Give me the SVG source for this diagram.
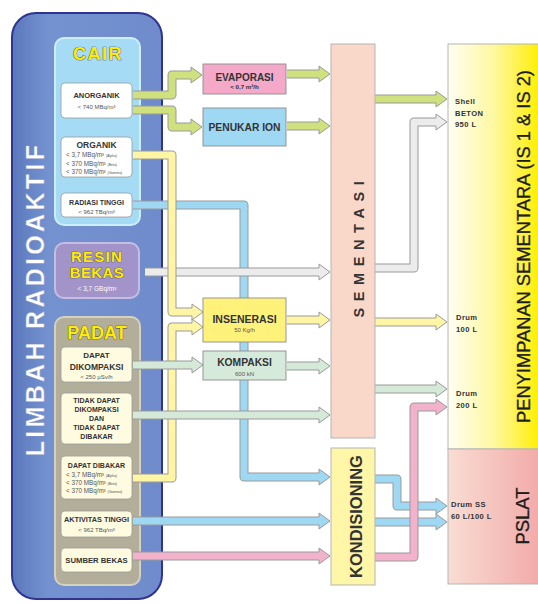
<svg xmlns="http://www.w3.org/2000/svg" width="538" height="604" viewBox="0 0 538 604">
<style>
text{font-family:"Liberation Sans",Arial,sans-serif;}
.b{font-weight:bold;fill:#333;text-anchor:middle;}
.s{fill:#555;text-anchor:middle;font-size:6px;}
.l{fill:#555;font-size:6.3px;}
.l tspan{font-size:3.5px;}
.hd{font-weight:bold;fill:#ffec00;stroke:#3a3a3a;stroke-width:.7;paint-order:stroke;text-anchor:middle;}
.bx{fill:#fff;stroke:#9a9a9a;stroke-width:.8;}
.pd{fill:#fffbe0;stroke:#9a9a9a;stroke-width:.8;}
.pr{stroke:#8c8c8c;stroke-width:.9;}
.tb{stroke:#b5b5b5;stroke-width:1;}
.lab{font-weight:bold;fill:#333;font-size:7.6px;letter-spacing:.4px;}
#conn path{fill:none;stroke-linejoin:round;}
#conn path.o{stroke:#9a9a9a;stroke-width:9;}
#conn path.f{stroke-width:7;}
.g .f{stroke:#cfe07f;marker-end:url(#mg);}
.y .f{stroke:#fff5a5;marker-end:url(#my);}
.c .f{stroke:#9fd8f3;marker-end:url(#mc);}
.e .f{stroke:#ececec;marker-end:url(#me);}
.m .f{stroke:#d5e9d9;marker-end:url(#mm);}
.p .f{stroke:#f2b2cc;marker-end:url(#mp);}
</style>
<defs>
<marker id="mg" markerUnits="userSpaceOnUse" orient="auto" refX="0" refY="0" markerWidth="14" markerHeight="20" viewBox="-1 -10 14 20" overflow="visible"><path d="M0,-4V-8L11,0L0,8V4" fill="#cfe07f" stroke="#9a9a9a" stroke-width="1"/></marker>
<marker id="my" markerUnits="userSpaceOnUse" orient="auto" refX="0" refY="0" markerWidth="14" markerHeight="20" viewBox="-1 -10 14 20" overflow="visible"><path d="M0,-4V-8L11,0L0,8V4" fill="#fff5a5" stroke="#9a9a9a" stroke-width="1"/></marker>
<marker id="mc" markerUnits="userSpaceOnUse" orient="auto" refX="0" refY="0" markerWidth="14" markerHeight="20" viewBox="-1 -10 14 20" overflow="visible"><path d="M0,-4V-8L11,0L0,8V4" fill="#9fd8f3" stroke="#9a9a9a" stroke-width="1"/></marker>
<marker id="me" markerUnits="userSpaceOnUse" orient="auto" refX="0" refY="0" markerWidth="14" markerHeight="20" viewBox="-1 -10 14 20" overflow="visible"><path d="M0,-4V-8L11,0L0,8V4" fill="#ececec" stroke="#9a9a9a" stroke-width="1"/></marker>
<marker id="mm" markerUnits="userSpaceOnUse" orient="auto" refX="0" refY="0" markerWidth="14" markerHeight="20" viewBox="-1 -10 14 20" overflow="visible"><path d="M0,-4V-8L11,0L0,8V4" fill="#d5e9d9" stroke="#9a9a9a" stroke-width="1"/></marker>
<marker id="mp" markerUnits="userSpaceOnUse" orient="auto" refX="0" refY="0" markerWidth="14" markerHeight="20" viewBox="-1 -10 14 20" overflow="visible"><path d="M0,-4V-8L11,0L0,8V4" fill="#f2b2cc" stroke="#9a9a9a" stroke-width="1"/></marker>
<linearGradient id="gOut" x1="0" y1="0" x2="1" y2="0"><stop offset="0" stop-color="#5b78bd"/><stop offset="0.25" stop-color="#7592d0"/><stop offset="1" stop-color="#6f8bcb"/></linearGradient>
<linearGradient id="gIS" x1="0" y1="0" x2="1" y2="0"><stop offset="0" stop-color="#fffef2"/><stop offset="0.5" stop-color="#fff8a0"/><stop offset="1" stop-color="#ffee00"/></linearGradient>
<linearGradient id="gPS" x1="0" y1="0" x2="1" y2="0"><stop offset="0" stop-color="#f9ddd3"/><stop offset="1" stop-color="#f2aaa9"/></linearGradient>
</defs>

<g id="limbah">
<rect x="12" y="13" width="150" height="586" rx="24" fill="url(#gOut)" stroke="#2e3490" stroke-width="2"/>
<text transform="translate(44,299) rotate(-90)" font-size="25" font-weight="bold" fill="#fff" stroke="#8d98b8" stroke-width=".4" text-anchor="middle" letter-spacing="3.3">LIMBAH RADIOAKTIF</text>
</g>

<g id="cair">
<rect x="55" y="38" width="85" height="187" rx="9" fill="#a6dbf5" stroke="#cdeefb" stroke-width="2"/>
<text class="hd" x="98" y="60" font-size="18" letter-spacing="1.5">CAIR</text>
</g>
<g id="anorganik">
<rect class="bx" x="61" y="83" width="71" height="35" rx="4"/>
<text class="b" x="96.5" y="98" font-size="7.5">ANORGANIK</text>
<text class="s" x="96.5" y="109">&lt; 740 MBq/m³</text>
</g>
<g id="organik">
<rect class="bx" x="61" y="137" width="71" height="40" rx="4"/>
<text class="b" x="96.5" y="148" font-size="8.5">ORGANIK</text>
<text class="l" x="66" y="157">&lt; 3,7 MBq/m³ <tspan>(Alpha)</tspan></text>
<text class="l" x="66" y="165.5">&lt; 370 MBq/m³ <tspan>(Beta)</tspan></text>
<text class="l" x="66" y="174">&lt; 370 MBq/m³ <tspan>(Gamma)</tspan></text>
</g>
<g id="radiasi">
<rect class="bx" x="61" y="193" width="71" height="24" rx="4"/>
<text class="b" x="96.5" y="205" font-size="7">RADIASI TINGGI</text>
<text class="s" x="96.5" y="213.5">&lt; 962 TBq/m³</text>
</g>

<g id="resin">
<rect x="55" y="243" width="84" height="55" rx="9" fill="#a294c9" stroke="#c6bde2" stroke-width="2"/>
<text class="hd" x="97" y="262" font-size="15" letter-spacing="1.2">RESIN</text>
<text class="hd" x="97" y="278" font-size="15" letter-spacing="0.4">BEKAS</text>
<text x="97" y="290.5" font-size="6.5" fill="#fff" text-anchor="middle">&lt; 3,7 GBq/m³</text>
</g>

<g id="padat">
<rect x="55" y="317" width="85" height="268" rx="9" fill="#b3ae9a" stroke="#d4d1c1" stroke-width="2"/>
<text class="hd" x="97" y="339" font-size="18">PADAT</text>
</g>
<g id="dikompaksi">
<rect class="pd" x="61" y="347" width="71" height="35" rx="4"/>
<text class="b" x="96.5" y="358" font-size="8">DAPAT</text>
<text class="b" x="96.5" y="370" font-size="8.5">DIKOMPAKSI</text>
<text class="s" x="96.5" y="378.5">&lt; 250 µSv/h</text>
</g>
<g id="tidakdapat">
<rect class="pd" x="61" y="393" width="71" height="51" rx="4"/>
<text class="b" x="96.5" y="403" font-size="7">TIDAK DAPAT</text>
<text class="b" x="96.5" y="412" font-size="7">DIKOMPAKSI</text>
<text class="b" x="96.5" y="421" font-size="7">DAN</text>
<text class="b" x="96.5" y="430" font-size="7">TIDAK DAPAT</text>
<text class="b" x="96.5" y="439" font-size="7">DIBAKAR</text>
</g>
<g id="dibakar">
<rect class="pd" x="61" y="456" width="71" height="43" rx="4"/>
<text class="b" x="96.5" y="468" font-size="7">DAPAT DIBAKAR</text>
<text class="l" x="66" y="477">&lt; 3,7 MBq/m³ <tspan>(Alpha)</tspan></text>
<text class="l" x="66" y="485">&lt; 370 MBq/m³ <tspan>(Beta)</tspan></text>
<text class="l" x="66" y="493">&lt; 370 MBq/m³ <tspan>(Gamma)</tspan></text>
</g>
<g id="aktivitas">
<rect class="pd" x="61" y="511" width="71" height="26" rx="4"/>
<text class="b" x="96.5" y="522" font-size="7.3">AKTIVITAS TINGGI</text>
<text class="s" x="96.5" y="532">&lt; 962 TBq/m³</text>
</g>
<g id="sumber">
<rect class="pd" x="61" y="548" width="71" height="24" rx="4"/>
<text class="b" x="96.5" y="563" font-size="7.7">SUMBER BEKAS</text>
</g>

<g id="conn">
<g class="c"><path class="o" d="M133,205H244V477H319"/><path class="f" d="M133,205H244V477H319"/></g>
<g class="e"><path class="o" d="M145,272H319"/><path class="f" d="M145,272H319"/></g>
<g class="y"><path class="o" d="M133,155H172V312H192"/><path class="f" d="M133,155H172V312H192"/></g>
<g class="y"><path class="o" d="M133,478H172V327H192"/><path class="f" d="M133,478H172V327H192"/></g>
<g class="m"><path class="o" d="M133,365H192"/><path class="f" d="M133,365H192"/></g>
<g class="m"><path class="o" d="M133,415H319"/><path class="f" d="M133,415H319"/></g>
<g class="g"><path class="o" d="M133,95H172V75H191"/><path class="f" d="M133,95H172V75H191"/></g>
<g class="g"><path class="o" d="M133,110H172V127H191"/><path class="f" d="M133,110H172V127H191"/></g>
<g class="g"><path class="o" d="M287,74H319"/><path class="f" d="M287,74H319"/></g>
<g class="g"><path class="o" d="M287,126H319"/><path class="f" d="M287,126H319"/></g>
<g class="g"><path class="o" d="M375,99H436"/><path class="f" d="M375,99H436"/></g>
<g class="e"><path class="o" d="M375,268H414V122H436"/><path class="f" d="M375,268H414V122H436"/></g>
<g class="y"><path class="o" d="M287,320H319"/><path class="f" d="M287,320H319"/></g>
<g class="y"><path class="o" d="M375,322H436"/><path class="f" d="M375,322H436"/></g>
<g class="m"><path class="o" d="M287,366H319"/><path class="f" d="M287,366H319"/></g>
<g class="m"><path class="o" d="M375,389H436"/><path class="f" d="M375,389H436"/></g>
<g class="c"><path class="o" d="M133,521H319"/><path class="f" d="M133,521H319"/></g>
<g class="p"><path class="o" d="M133,556H319"/><path class="f" d="M133,556H319"/></g>
<g class="c"><path class="o" d="M375,479H397V506H436"/><path class="f" d="M375,479H397V506H436"/></g>
<g class="c"><path class="o" d="M375,522H436"/><path class="f" d="M375,522H436"/></g>
<g class="p"><path class="o" d="M375,557H414V407H436"/><path class="f" d="M375,557H414V407H436"/></g>
</g>

<g id="evaporasi">
<rect class="pr" x="203" y="64" width="83" height="30" fill="#f4a9c9"/>
<text class="b" x="244.5" y="81" font-size="10">EVAPORASI</text>
<text class="b" x="244.5" y="88.5" font-size="6.2">&lt; 0,7 m³/h</text>
</g>
<g id="penukar">
<rect class="pr" x="203" y="108" width="83" height="38" fill="#9fd8f3"/>
<text class="b" x="244.5" y="131" font-size="10.3">PENUKAR ION</text>
</g>
<g id="insenerasi">
<rect class="pr" x="203" y="298" width="83" height="44" fill="#fff27a"/>
<text class="b" x="244.5" y="323" font-size="10.5">INSENERASI</text>
<text class="s" x="244.5" y="331.5" font-size="7" fill="#444">50 Kg/h</text>
</g>
<g id="kompaksi">
<rect class="pr" x="203" y="351" width="83" height="29" fill="#d6eadb"/>
<text class="b" x="244.5" y="366" font-size="10.3">KOMPAKSI</text>
<text class="s" x="244.5" y="375.5" font-size="7" fill="#444">600 kN</text>
</g>

<g id="sementasi">
<rect class="tb" x="331" y="44" width="44" height="394" fill="#f9d7c9"/>
<text transform="translate(363.5,246) rotate(-90)" font-size="14.5" font-weight="bold" fill="#333" text-anchor="middle" letter-spacing="6.6">SEMENTASI</text>
</g>
<g id="kondisioning">
<rect class="tb" x="331" y="448" width="44" height="137" fill="#fff6a8"/>
<text transform="translate(362,516.5) rotate(-90)" font-size="16.5" font-weight="bold" fill="#333" text-anchor="middle">KONDISIONING</text>
</g>

<g id="penyimpanan">
<rect class="tb" x="448" y="44" width="92" height="405" fill="url(#gIS)"/>
<text transform="translate(530,246.5) rotate(-90)" font-size="18.3" fill="#1c1c1c" stroke="#1c1c1c" stroke-width=".3" text-anchor="middle">PENYIMPANAN SEMENTARA (IS 1 &amp; IS 2)</text>
<text class="lab" x="455" y="104">Shell</text>
<text class="lab" x="455" y="116">BETON</text>
<text class="lab" x="455" y="127">950 L</text>
<text class="lab" x="456" y="320">Drum</text>
<text class="lab" x="456" y="332">100 L</text>
<text class="lab" x="456" y="396">Drum</text>
<text class="lab" x="456" y="408">200 L</text>
</g>
<g id="pslat">
<rect class="tb" x="448" y="449" width="92" height="135" fill="url(#gPS)"/>
<text transform="translate(529,516) rotate(-90)" font-size="18.5" fill="#1c1c1c" stroke="#1c1c1c" stroke-width=".3" text-anchor="middle">PSLAT</text>
<text class="lab" x="451" y="507">Drum SS</text>
<text class="lab" x="451" y="519">60 L/100 L</text>
</g>
</svg>
